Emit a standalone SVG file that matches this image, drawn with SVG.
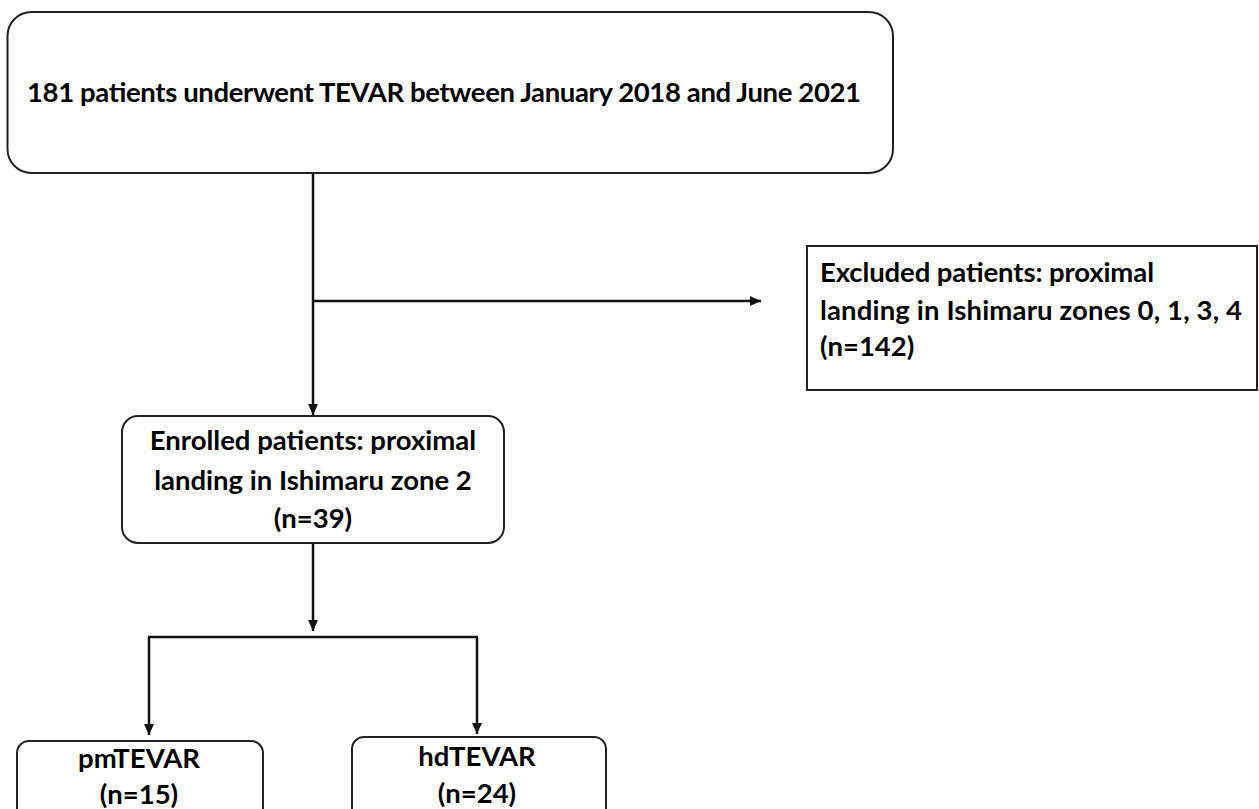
<svg xmlns="http://www.w3.org/2000/svg" width="1259" height="809" viewBox="0 0 1259 809">
<style>
.box{fill:#fff;stroke:#222;stroke-width:2}
.t{font-family:Lato,"Open Sans","Liberation Sans",sans-serif;font-weight:bold;font-size:27.5px;fill:#000}
.c{text-anchor:middle}
.ln{stroke:#111;stroke-width:2.5;fill:none}
</style>
<defs>
<marker id="ah" markerUnits="userSpaceOnUse" markerWidth="12" markerHeight="11" refX="11" refY="5" orient="auto">
<path d="M0,0 L11,5 L0,10 z" fill="#111"/>
</marker>
</defs>
<rect width="1259" height="809" fill="#fff"/>
<g id="connectors">
<line class="ln" x1="313" y1="173" x2="313" y2="415" marker-end="url(#ah)"/>
<line class="ln" x1="313" y1="301" x2="761" y2="301" marker-end="url(#ah)"/>
<line class="ln" x1="313" y1="543" x2="313" y2="631" marker-end="url(#ah)"/>
<line class="ln" x1="148" y1="637" x2="478" y2="637"/>
<line class="ln" x1="149" y1="637" x2="149" y2="735" marker-end="url(#ah)"/>
<line class="ln" x1="477" y1="637" x2="477" y2="734" marker-end="url(#ah)"/>
</g>
<g id="node-total">
<rect class="box" x="7.5" y="12" width="885.5" height="161" rx="24"/>
<text class="t" x="27" y="102" textLength="834">181 patients underwent TEVAR between January 2018 and June 2021</text>
</g>
<g id="node-excluded">
<rect class="box" x="807" y="246" width="450" height="144"/>
<text class="t" x="820" y="282" textLength="334">Excluded patients: proximal</text>
<text class="t" x="820" y="320" textLength="422">landing in Ishimaru zones 0, 1, 3, 4</text>
<text class="t" x="820" y="356">(n=142)</text>
</g>
<g id="node-enrolled">
<rect class="box" x="122" y="416" width="382" height="127" rx="16"/>
<text class="t c" x="313" y="450">Enrolled patients: proximal</text>
<text class="t c" x="313" y="490">landing in Ishimaru zone 2</text>
<text class="t c" x="313" y="528">(n=39)</text>
</g>
<g id="node-pm">
<rect class="box" x="17" y="741" width="246" height="90" rx="12"/>
<text class="t c" x="139" y="768">pmTEVAR</text>
<text class="t c" x="139" y="804">(n=15)</text>
</g>
<g id="node-hd">
<rect class="box" x="352" y="737" width="254" height="90" rx="12"/>
<text class="t c" x="477" y="766">hdTEVAR</text>
<text class="t c" x="477" y="803">(n=24)</text>
</g>
</svg>
